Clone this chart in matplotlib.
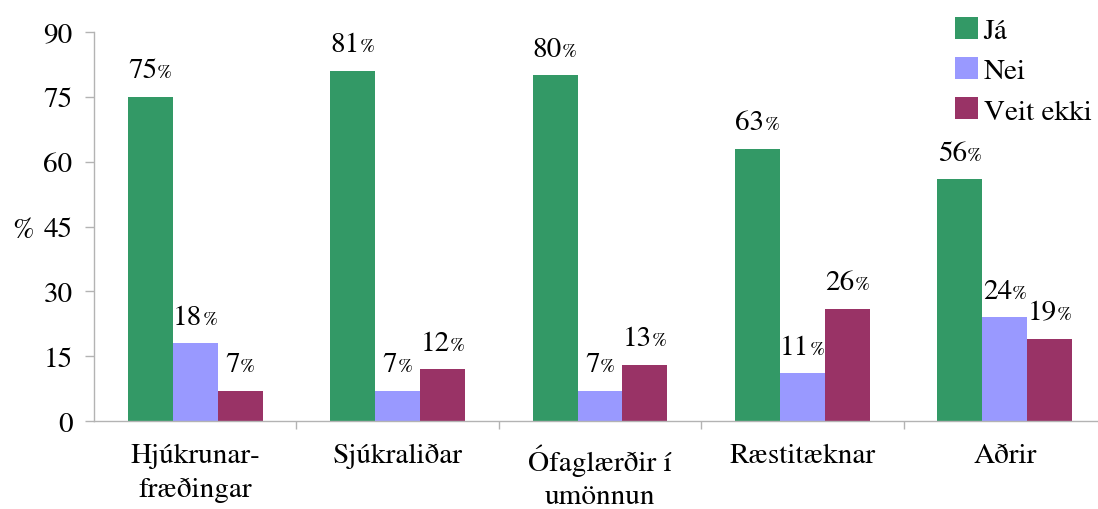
import matplotlib
matplotlib.use("Agg")
import matplotlib.pyplot as plt
from matplotlib.patches import Patch
from matplotlib.ticker import FixedLocator, NullFormatter
import numpy as np

plt.rcParams['font.family'] = ['STIXGeneral', 'Liberation Serif', 'DejaVu Serif']

categories = ["Hjúkrunar-\nfræðingar", "Sjúkraliðar", "Ófaglærðir í\numönnun",
              "Ræstitæknar", "Aðrir"]
series_names = ["Já", "Nei", "Veit ekki"]
ja = [75, 81, 80, 63, 56]
nei = [18, 7, 7, 11, 24]
veit_ekki = [7, 12, 13, 26, 19]
series_values = [ja, nei, veit_ekki]
colors = ["#339966", "#9999FF", "#993366"]
yticks = [0, 15, 30, 45, 60, 75, 90]

W, H = 1098, 510
fig = plt.figure(figsize=(W / 100, H / 100), dpi=100)
ax = fig.add_axes([94 / W, 1 - 422 / H, 1012 / W, 389 / H])

x = np.arange(len(categories))
bw = 2 / 9
big = 21
small = 14.5

for i, (vals, col, name) in enumerate(zip(series_values, colors, series_names)):
    pos = x + (i - 1) * bw
    ax.bar(pos, vals, width=bw, color=col, label=name, zorder=2)

ax.set_xlim(-0.5, len(categories) - 0.5)
ax.set_ylim(0, 90)
ax.set_yticks(yticks)
ax.set_yticklabels([str(t) for t in yticks])

ax.set_xticks(x)
ax.set_xticklabels(categories, linespacing=1.45)
ax.xaxis.set_minor_locator(FixedLocator(np.arange(0.5, len(categories) - 0.5, 1)))
ax.xaxis.set_minor_formatter(NullFormatter())

axis_gray = "#B3B3B3"
for s in ("top", "right"):
    ax.spines[s].set_visible(False)
for s in ("left", "bottom"):
    ax.spines[s].set_color(axis_gray)
    ax.spines[s].set_linewidth(1.0)

ax.tick_params(axis='y', which='major', direction='out', length=6.5, width=1,
               color=axis_gray, labelsize=big, pad=9)
ax.tick_params(axis='x', which='major', length=0, labelsize=big, pad=16)
ax.tick_params(axis='x', which='minor', direction='out', length=6, width=1,
               color=axis_gray)

ax.set_ylabel("%", fontsize=big, rotation=0, va='center')
ax.yaxis.set_label_coords(-0.07, 0.49)

# value labels: large number followed by a smaller percent sign, centred on the bar
fig.canvas.draw()
renderer = fig.canvas.get_renderer()
for i, vals in enumerate(series_values):
    pos = x + (i - 1) * bw
    for xp, v in zip(pos, vals):
        num = ax.annotate(str(v), (xp, v), xytext=(0, 14), textcoords='offset points',
                          ha='right', va='baseline', fontsize=big)
        pct = ax.annotate("%", (xp, v), xytext=(0, 14), textcoords='offset points',
                          ha='left', va='baseline', fontsize=small)
        wn = num.get_window_extent(renderer).width
        wp = pct.get_window_extent(renderer).width
        shift = (wn - wp) / 2 * 72 / fig.dpi
        num.set_position((shift, 14))
        pct.set_position((shift, 14))

handles = [Patch(facecolor=c, edgecolor='none') for c in colors]
fig.legend(handles, series_names, loc='upper left',
           bbox_to_anchor=(955 / W, 1 - 18 / H), frameon=False, fontsize=big,
           handlelength=0.78, handleheight=0.78, handletextpad=0.2,
           labelspacing=0.45, borderpad=0, borderaxespad=0)

fig.savefig("out.png", dpi=100)
